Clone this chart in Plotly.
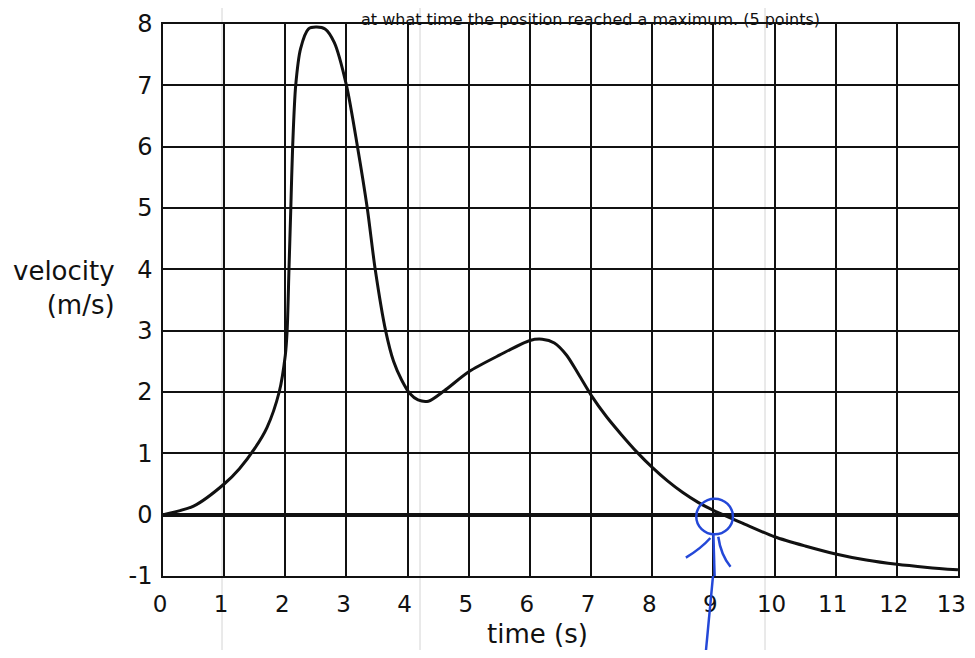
import plotly.graph_objects as go

# --- data ---
time_s = [0, 0.5, 1.0, 1.25, 1.5, 1.7, 1.9, 2.0, 2.03, 2.06, 2.09, 2.12, 2.17, 2.25, 2.38, 2.5, 2.65,
          2.8, 3.0, 3.18, 3.34, 3.47, 3.64, 3.77, 3.9, 4.04, 4.17, 4.34, 4.6, 5.0, 5.5, 6.0, 6.2,
          6.4, 6.6, 6.8, 7.0, 7.25, 7.5, 7.75, 8.0, 8.25, 8.5, 8.75, 9.0, 9.5, 10.0, 10.5,
          11.0, 11.5, 12.0, 12.5, 13.0]
velocity = [0, 0.14, 0.5, 0.75, 1.08, 1.42, 2.0, 2.6, 3.0, 4.0, 5.0, 6.0, 7.0, 7.6, 7.92, 7.95, 7.92,
            7.7, 7.0, 6.0, 5.0, 4.0, 3.0, 2.5, 2.2, 1.97, 1.87, 1.85, 2.02, 2.33, 2.6, 2.84, 2.86,
            2.8, 2.6, 2.28, 1.95, 1.6, 1.3, 1.02, 0.77, 0.55, 0.36, 0.2, 0.07, -0.15, -0.36, -0.51,
            -0.64, -0.74, -0.81, -0.86, -0.9]
x_ticks = list(range(0, 14))
x_tick_text = [str(v) for v in x_ticks[:-1]] + ["13\u00a0"]
y_ticks = list(range(-1, 9))

FONT = "DejaVu Sans"
INK = "#111111"
BLUE = "#2448d8"

fig = go.Figure()
fig.add_trace(go.Scatter(
    x=time_s, y=velocity, mode="lines",
    line=dict(color=INK, width=3, shape="spline", smoothing=0.8),
    hoverinfo="skip", showlegend=False,
))

# page has an 8px body margin, so the figure starts at (8, 8) in the window
OFF = 8
W, H = 975 - OFF, 658 - 2 * OFF
ML, MR, MT, MB = 163 - OFF, 17, 24 - OFF, (H + OFF) - 576
PW = W - ML - MR
PH = H - MT - MB

def px_x(p):
    return (p - OFF - ML) / PW

def px_y(p):
    return (H + OFF - MB - p) / PH

shapes = []
# faint scan fold lines
for p in (222, 420, 765):
    shapes.append(dict(type="line", xref="paper", yref="paper",
                       x0=px_x(p), x1=px_x(p), y0=px_y(H + OFF), y1=px_y(OFF),
                       line=dict(color="#d4d4d4", width=1), layer="below"))
# hand-drawn blue mark around the zero crossing
shapes.append(dict(type="circle", xref="x", yref="y", x0=8.72, x1=9.32, y0=-0.32, y1=0.26,
                   line=dict(color=BLUE, width=2.5)))
shapes.append(dict(type="line", xref="x", yref="y", x0=9.0, x1=9.02, y0=-0.32, y1=-1.0,
                   line=dict(color=BLUE, width=2.5)))
shapes.append(dict(type="line", xref="paper", yref="paper",
                   x0=px_x(713), x1=px_x(706), y0=px_y(576), y1=px_y(H + OFF),
                   line=dict(color=BLUE, width=2.5)))
shapes.append(dict(type="path", xref="x", yref="y",
                   path="M 8.95,-0.38 Q 8.8,-0.55 8.55,-0.7",
                   line=dict(color=BLUE, width=2.5)))
shapes.append(dict(type="path", xref="x", yref="y",
                   path="M 9.08,-0.36 Q 9.12,-0.65 9.28,-0.85",
                   line=dict(color=BLUE, width=2.5)))

fig.update_layout(
    width=W, height=H,
    margin=dict(l=ML, r=MR, t=MT, b=MB, autoexpand=False),
    paper_bgcolor="white",
    plot_bgcolor="rgba(0,0,0,0)",
    font=dict(family=FONT, size=21, color=INK),
    shapes=shapes,
    xaxis=dict(
        range=[0, 13], tickmode="array", tickvals=x_ticks,
        ticktext=x_tick_text,
        showgrid=True, gridcolor=INK, gridwidth=1.5,
        zeroline=True, zerolinecolor=INK, zerolinewidth=4,
        showline=True, linecolor=INK, linewidth=1.5, mirror=True,
        ticks="", ticklabelstandoff=7, ticklabelshift=-3, automargin=False,
        ticklabeloverflow="allow",
        tickfont=dict(family=FONT, size=23, color=INK),
        fixedrange=True,
    ),
    yaxis=dict(
        range=[-1, 8], tickmode="array", tickvals=y_ticks,
        ticktext=[str(v) for v in y_ticks],
        showgrid=True, gridcolor=INK, gridwidth=1.5,
        zeroline=True, zerolinecolor=INK, zerolinewidth=3.5,
        showline=True, linecolor=INK, linewidth=1.5, mirror=True,
        ticks="", ticklabelstandoff=4, automargin=False,
        tickfont=dict(family=FONT, size=24, color=INK),
        fixedrange=True,
    ),
    annotations=[
        dict(text="at what time the position reached a maximum. (5 points)",
             xref="paper", yref="paper", x=px_x(822), y=px_y(19),
             xanchor="right", yanchor="middle", showarrow=False,
             font=dict(family=FONT, size=16, color=INK)),
        dict(text="velocity<br>(m/s)", xref="paper", yref="paper",
             x=px_x(117), y=px_y(288), xanchor="right", yanchor="middle",
             align="right", showarrow=False,
             font=dict(family=FONT, size=26, color=INK)),
        dict(text="time (s)", xref="paper", yref="paper",
             x=px_x(537), y=px_y(634), xanchor="center", yanchor="middle",
             showarrow=False, font=dict(family=FONT, size=26, color=INK)),
    ],
)

fig.write_html("out.html")
